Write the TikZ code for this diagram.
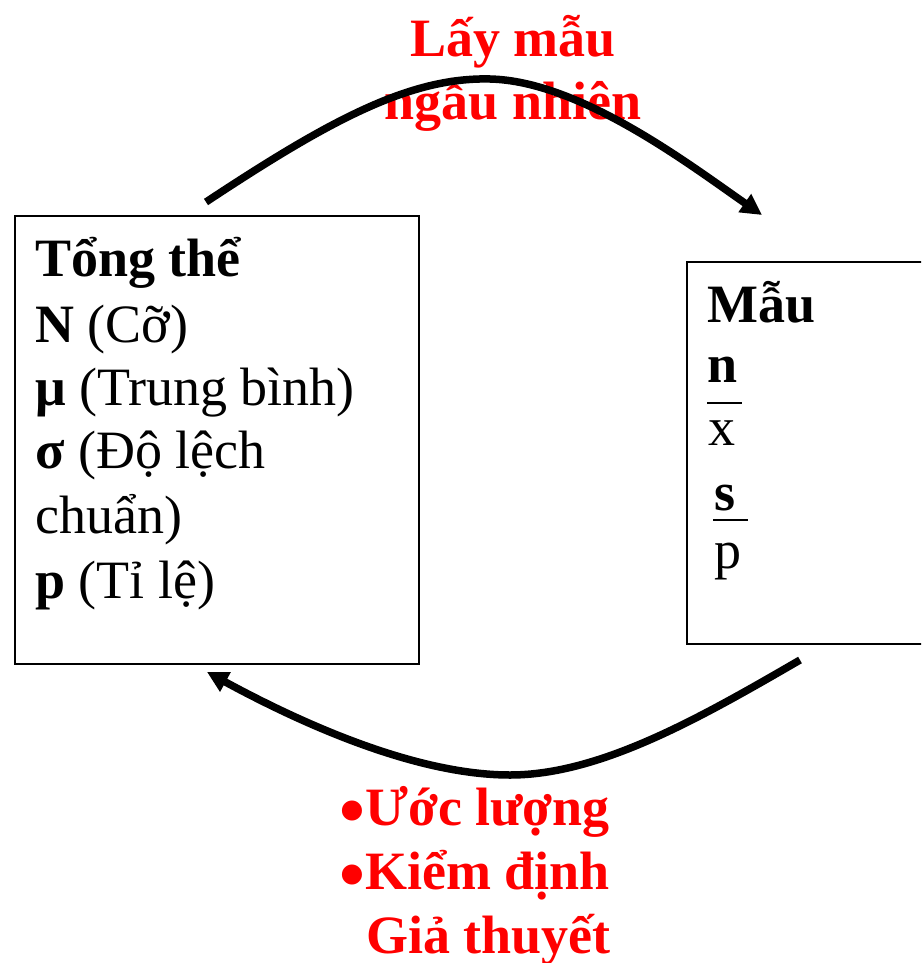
\documentclass[tikz,border=0pt]{standalone}
\usepackage{fontspec}
\setmainfont{Liberation Serif}
\usetikzlibrary{arrows.meta}
\newcommand{\bigbul}{\makebox[26pt][c]{\smash{\raisebox{-10pt}{\fontsize{74}{64}\selectfont •}}}}
\begin{document}
\begin{tikzpicture}[x=1pt,y=-1pt,
  txt/.style={anchor=base west, inner sep=0pt, font=\fontsize{54}{64}\selectfont},
  redtxt/.style={txt, text=red, font=\fontsize{54}{64}\selectfont\bfseries},
  box/.style={draw=black, line width=1.6pt, inner sep=0pt, anchor=north west},
  bar/.style={line width=1.8pt},
  flow/.style={line width=7.5pt, -{Triangle[length=21pt,width=21pt]}}
]
\useasboundingbox (0,0) rectangle (921,963);
\clip (0,0) rectangle (921,963);
% boxes
\node[box, minimum width=404pt, minimum height=448pt] (pop) at (14,215) {};
\node[box, minimum width=260pt, minimum height=382pt] (smp) at (686,261) {};
% population text
\node[txt] (t1) at (35,276) {\textbf{Tổng thể}};
\node[txt] (t2) at (35,342) {\textbf{N} (Cỡ)};
\node[txt] (t3) at (35,405) {\textbf{μ} (Trung bình)};
\node[txt] (t4) at (35,468) {\textbf{σ} (Độ lệch};
\node[txt] (t5) at (35,533) {chuẩn)};
\node[txt] (t6) at (35,598) {\textbf{p} (Tỉ lệ)};
% sample text
\node[txt] (m1) at (707,322) {\textbf{Mẫu}};
\node[txt] (m2) at (707,382) {\textbf{n}};
\node[txt] (m3) at (708,445) {x};
\node[txt] (m4) at (714,510) {\textbf{s}};
\node[txt] (m5) at (714,568) {p};
\draw[bar] (707,403) -- (742,403);
\draw[bar] (713,520) -- (748,520);
% red labels
\node[redtxt, anchor=base] (l1) at (513,57) {Lấy mẫu};
\node[redtxt, anchor=base] (l2) at (513,120) {ngẫu nhiên};
\node[redtxt, align=left] (r1) at (339,953) {\bigbul Ước lượng\\\bigbul Kiểm định\\\hspace*{27pt}Giả thuyết};
% arrows
\coordinate (a1) at (206,202);
\coordinate (a2) at (762,215);
\coordinate (b0) at (800,660);
\coordinate (bt) at (207,672);
\draw[flow] (a1) .. controls (330,120) and (410,77) .. (490,79) .. controls (580,81) and (690,165) .. (a2);
\draw[flow] (b0) .. controls (700,718) and (600,775) .. (510,775) .. controls (420,775) and (310,728) .. (bt);
\end{tikzpicture}
\end{document}
